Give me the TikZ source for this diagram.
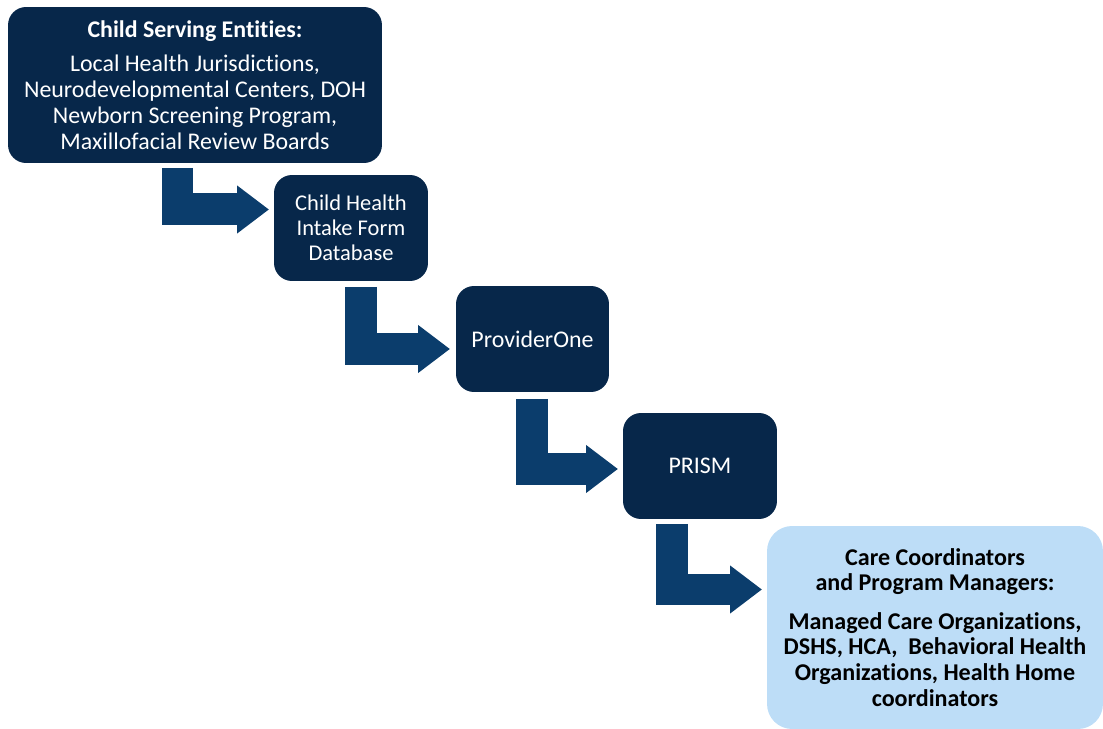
\documentclass[tikz,border=0pt]{standalone}
\usepackage{fontspec}
\setmainfont{Carlito}[Ligatures=NoCommon]
\usetikzlibrary{arrows.meta}
\definecolor{navy}{HTML}{07274A}
\definecolor{flowblue}{HTML}{0B3D6C}
\definecolor{paleblue}{HTML}{BDDDF7}
\tikzstyle{stage} = [fill=navy, text=white, rounded corners=0.36cm, inner sep=0pt, align=center]

\begin{document}
\begin{tikzpicture}
 [x=0.02cm, y=-0.02cm,
  every node/.style={font=\fontsize{13.6pt}{14.7pt}\selectfont},
  flow/.style={draw=flowblue, line width=0.64cm, line join=miter,
    -{Triangle[width=0.92cm, length=0.64cm]}},
  endbox/.style={fill=paleblue, text=black, rounded corners=0.5cm, inner sep=0pt,
    align=center, font=\fontsize{13.7pt}{14.7pt}\selectfont\bfseries}]

  \useasboundingbox (0,0) rectangle (1103,729);

  \node[stage, minimum width=7.48cm, minimum height=3.12cm] (cse) at (195,85)
    {\textbf{Child Serving Entities:}\\[5pt]
     Local Health Jurisdictions,\\
     Neurodevelopmental Centers, DOH\\
     Newborn Screening Program,\\
     Maxillofacial Review Boards};
  \node[stage, minimum width=3.08cm, minimum height=2.12cm,
        font=\fontsize{12.8pt}{14.2pt}\selectfont] (chif) at (351,228)
    {Child Health\\Intake Form\\Database};
  \node[stage, minimum width=3.06cm, minimum height=2.12cm] (p1) at (532.5,339)
    {ProviderOne};
  \node[stage, minimum width=3.08cm, minimum height=2.12cm] (prism) at (700,466)
    {PRISM};
  \node[endbox, minimum width=6.72cm, minimum height=4.06cm] (care) at (935,627.5)
    {Care Coordinators\\
     and Program Managers:\\[7pt]
     Managed Care Organizations,\\
     DSHS, HCA,\ \ Behavioral Health\\
     Organizations, Health Home\\
     coordinators};

  % arrow ends
  \coordinate (s1) at (177.5,168);   \coordinate (t1) at (269,209.5);
  \coordinate (s2) at (361,287);     \coordinate (t2) at (450,349);
  \coordinate (s3) at (531.5,399);   \coordinate (t3) at (618,469);
  \coordinate (s4) at (671.5,524);   \coordinate (t4) at (762,589.5);

  \foreach \i in {1,...,4} \draw[flow] (s\i) |- (t\i);
\end{tikzpicture}
\end{document}
